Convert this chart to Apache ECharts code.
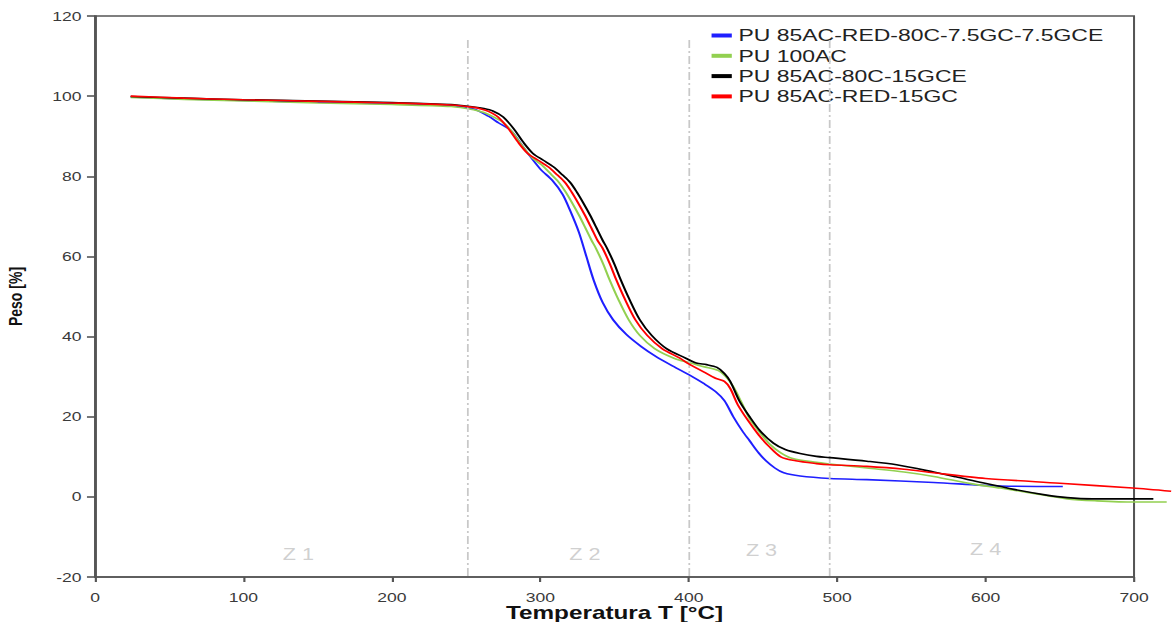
<!DOCTYPE html>
<html>
<head>
<meta charset="utf-8">
<script src="https://cdn.jsdelivr.net/npm/echarts@6/dist/echarts.min.js"></script>
<style>
html,body{margin:0;padding:0;background:#fff;overflow:hidden;}
#wrap{width:1172px;height:622px;overflow:hidden;}
#c{width:868px;height:622px;transform:scaleX(1.3502);transform-origin:0 0;}
</style>
</head>
<body>
<div id="wrap"><div id="c"></div></div>
<script>
// Series names
const seriesNames = ['PU 85AC-RED-80C-7.5GC-7.5GCE', 'PU 100AC', 'PU 85AC-80C-15GCE', 'PU 85AC-RED-15GC'];

// [Temperature °C, Weight %]
const bluePU = [[24,99.8],[60,99.3],[100,98.9],[150,98.5],[200,98.1],[240,97.6],[255,96.8],[265,95],[272,93.3],[280,91.5],[290,86.5],[300,81.8],[308,79],[315,75.5],[320,71.5],[326,66],[331,60],[336,54],[342,48.5],[349,44.2],[358,40.5],[368,37.5],[378,35],[390,32.5],[400,30.5],[410,28.3],[418,26.3],[424,24],[430,20],[436,16.5],[441,14],[447,11],[452,9],[458,7.2],[464,6],[475,5.2],[495,4.6],[520,4.3],[565,3.6],[610,2.7],[652,2.6]];
const greenPU = [[24,99.7],[60,99.2],[100,98.8],[150,98.3],[200,97.9],[240,97.4],[255,96.6],[262,95.9],[268,94.9],[275,93.4],[281,91.1],[287,88],[294,84.8],[301,82.8],[307.5,80.4],[312.5,78.5],[317,76.1],[321.5,73.3],[326,70.3],[330.5,67],[334.5,64],[337.5,62],[342.5,58],[346.5,54.3],[352.5,49.3],[359.5,44.2],[367,40.3],[377,37],[390,34.6],[400,33.5],[410,32.5],[420,31.5],[425,30],[430,27.5],[435,24],[441,19.5],[448,16],[455,13],[462,11],[470,9.6],[486,8.6],[495,8.2],[520,7.2],[545,6.2],[565,5.1],[590,3.3],[610,2.2],[630,1],[655,-0.5],[675,-1],[700,-1.3],[722,-1.3]];
const blackPU = [[24,99.9],[60,99.5],[100,99.1],[150,98.8],[200,98.4],[240,97.9],[255,97.3],[262,96.9],[268,96.3],[275,94.8],[282,91.9],[288.5,88.5],[295,85.7],[302,84],[309,82.3],[315,80.3],[320,78.5],[324.5,76.1],[329,73.3],[333.5,70.3],[338,67],[342,64],[345,62],[350,58],[354,54.3],[360,49.3],[367,44.2],[375,40.3],[385,37],[398,34.6],[405,33.4],[412,33],[419,32.3],[424,30.8],[428,28.8],[434,24],[441,20],[448,16.5],[457,13.4],[465,11.8],[475,10.8],[486,10.1],[495,9.8],[520,8.9],[540,8],[565,6.2],[580,5],[598,3.5],[620,1.8],[640,0.5],[655,-0.2],[672,-0.5],[713,-0.5]];
const redPU = [[24,100],[60,99.5],[100,99.1],[150,98.7],[200,98.3],[240,97.8],[255,97.2],[260,96.8],[265,96.2],[271.5,94.8],[278.5,91.9],[285,88.5],[291.5,85.7],[298.5,84],[305.5,82.3],[311.5,80.3],[316.5,78.5],[321,76.1],[325.5,73.3],[330,70.3],[334.5,67],[338.5,64],[342,62],[347,58],[351,54.3],[357,49.3],[364,44.2],[372,40.3],[382,37],[394,34.6],[400,33.2],[410,31.2],[418,29.6],[424,28.8],[428,27],[433,23],[440,19],[447,15.5],[454,12.6],[462,10],[472,9],[486,8.3],[495,8],[520,7.6],[545,6.9],[565,6],[600,4.6],[650,3.4],[699,2.2],[725,1.4]];

// Zone boundaries and labels
const zoneBounds = [251, 400, 495];
const zoneLabels = ['Z 1', 'Z 2', 'Z 3', 'Z 4'];
const zoneLabelX = [137, 330, 449, 600];
const zoneLabelY = [-14.4, -14.4, -13.4, -13.2];

const colors = ['#1f1fff', '#92d050', '#000000', '#ff0000'];
const dataSets = [bluePU, greenPU, blackPU, redPU];

const chart = echarts.init(document.getElementById('c'), null, { renderer: 'svg' });
const font = "'Liberation Sans', Arial, sans-serif";

const lineSeries = seriesNames.map((n, i) => ({
  name: n,
  type: 'line',
  xAxisIndex: 1,
  yAxisIndex: 1,
  data: dataSets[i],
  smooth: 0.3,
  showSymbol: false,
  clip: false,
  lineStyle: { color: colors[i], width: 1.6 },
  itemStyle: { color: colors[i] },
  z: 3 + i
}));

const axisLineStyle = { color: '#555', width: 1.6 };

const option = {
  animation: false,
  backgroundColor: '#fff',
  textStyle: { fontFamily: font },
  color: colors,
  grid: [
    { left: 70.4, top: 16, right: 28.1, bottom: 45, show: true, borderColor: '#555', borderWidth: 1.5, outerBoundsMode: 'none', containLabel: false },
    { left: 70.4, top: 16, right: 0.6, bottom: 45, outerBoundsMode: 'none', containLabel: false }
  ],
  legend: {
    orient: 'vertical',
    left: 522,
    top: 22,
    itemWidth: 15,
    itemHeight: 4,
    itemGap: 3.3,
    icon: 'rect',
    data: seriesNames,
    textStyle: { fontFamily: font, fontSize: 17, color: '#222', lineHeight: 16 }
  },
  xAxis: [{
    gridIndex: 0,
    type: 'value', min: 0, max: 700, interval: 100,
    name: 'Temperatura T [°C]', nameLocation: 'middle', nameGap: 27, nameMoveOverlap: false,
    nameTextStyle: { fontFamily: font, fontSize: 18, fontWeight: 'bold', color: '#111' },
    axisLine: { show: true, onZero: false, lineStyle: axisLineStyle },
    axisTick: { show: true, length: 5, inside: false, lineStyle: axisLineStyle },
    axisLabel: { color: '#3a3a3a', fontSize: 13, margin: 14, fontFamily: font },
    splitLine: { show: false }
  }, {
    gridIndex: 1, type: 'value', min: 0, max: 725, show: false
  }],
  yAxis: [{
    gridIndex: 0,
    type: 'value', min: -20, max: 120, interval: 20,
    name: 'Peso [%]', nameLocation: 'middle', nameGap: 52, nameRotate: 90, nameMoveOverlap: false,
    nameTextStyle: { fontFamily: font, fontSize: 14, fontWeight: 'bold', color: '#111' },
    axisLine: { show: true, onZero: false, lineStyle: axisLineStyle },
    axisTick: { show: true, length: 6, inside: false, lineStyle: axisLineStyle },
    axisLabel: { color: '#3a3a3a', fontSize: 13, margin: 10, fontFamily: font },
    splitLine: { show: false }
  }, {
    gridIndex: 1, type: 'value', min: -20, max: 120, show: false
  }],
  series: [
    {
      type: 'line',
      data: [],
      silent: true,
      markLine: {
        silent: true,
        symbol: ['none', 'none'],
        label: { show: false },
        lineStyle: { color: '#c8c8c8', width: 1.3, type: [8, 3, 2, 3] },
        data: zoneBounds.map(b => [{ coord: [b, 114] }, { coord: [b, -20] }])
      }
    },
    {
      type: 'scatter',
      silent: true,
      symbolSize: 0,
      data: zoneLabels.map((t, i) => ({ value: [zoneLabelX[i], zoneLabelY[i]], name: t })),
      label: {
        show: true, position: 'inside',
        formatter: p => p.name,
        color: '#c4c4c4', fontSize: 16, fontFamily: font
      }
    },
    ...lineSeries
  ]
};
chart.setOption(option);
</script>
</body>
</html>
